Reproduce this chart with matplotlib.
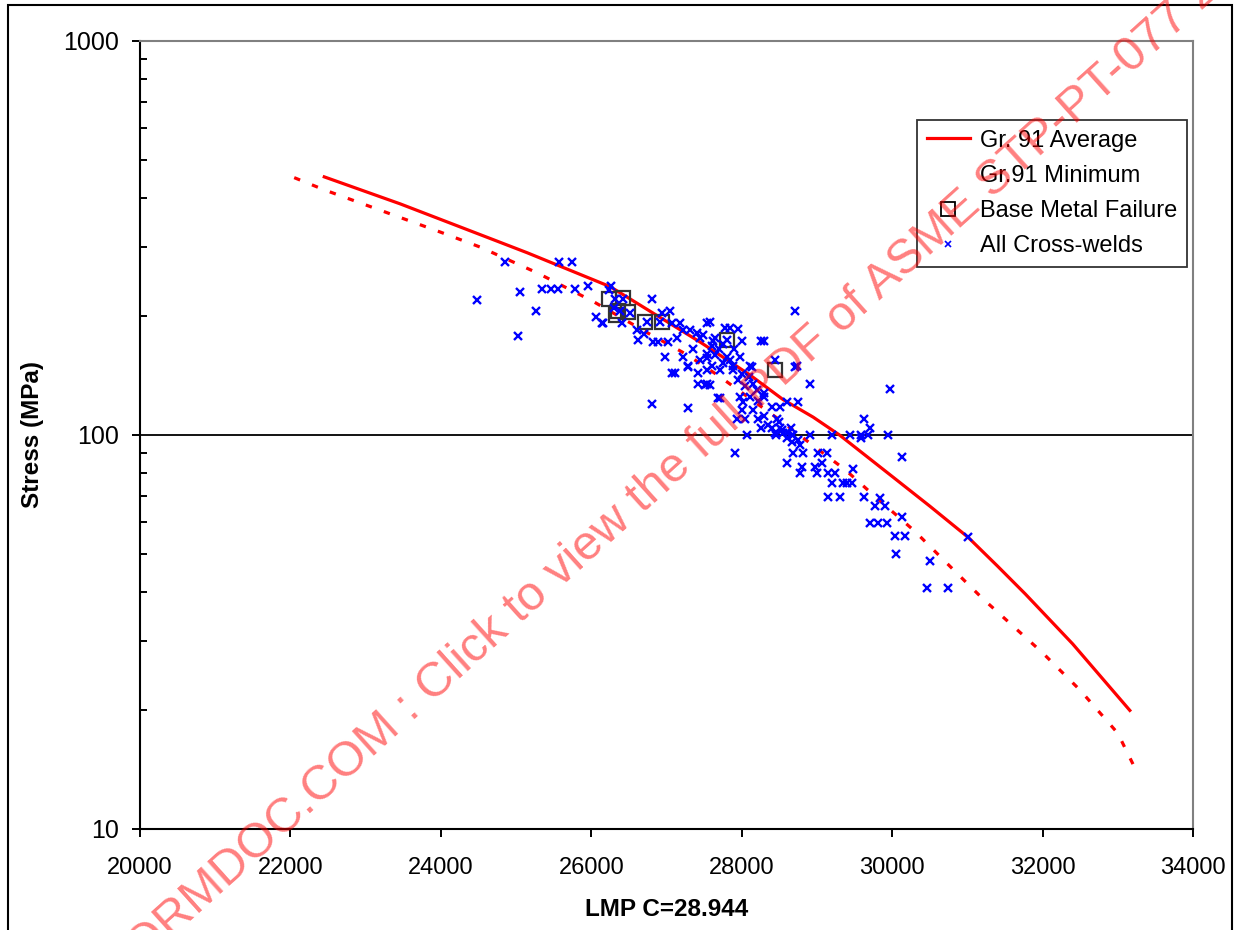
import matplotlib.pyplot as plt
from matplotlib import font_manager
from matplotlib.lines import Line2D
from matplotlib.patches import Rectangle
from matplotlib.ticker import LogLocator, NullFormatter, FixedLocator

plt.rcParams['font.family'] = ['Liberation Sans', 'DejaVu Sans']
names = {f.name for f in font_manager.fontManager.ttflist}
narrow = 'Liberation Sans Narrow' if 'Liberation Sans Narrow' in names else 'Liberation Sans'

# Gr.91 average / minimum curves (LMP, MPa)
avg_lmp = [22450, 23460, 24700, 25150, 26250, 27450, 28110, 28550, 28950, 29300,
           30000, 30500, 31010, 31400, 31770, 32400, 33160]
avg_mpa = [452, 386, 313, 290, 238, 172, 142, 123, 111, 100,
           78.5, 66, 55, 46.5, 39.5, 29.5, 20]

min_lmp = [22050, 22450, 24000, 24520, 25280, 26030, 26740, 27270, 27700, 28510,
           28950, 29380, 29730, 30300, 30840, 31200, 32000, 32500, 33000, 33250]
min_mpa = [450, 419, 327, 300, 258, 218, 182, 160, 141, 109,
           94, 81.5, 71, 57, 45, 38.5, 28, 22.5, 17.5, 14]

# base metal failures
bm_lmp = [26240, 26420, 26360, 26330, 26490, 26720, 26940, 27810, 28440]
bm_mpa = [222, 223, 207, 202, 205, 194, 194, 174, 146]

# all cross-welds
cw_lmp = [24480, 24850, 25050, 25030, 25270, 25350, 25470, 25560, 25570, 25750,
          25790, 25960, 26060, 26140, 26260, 26240, 26320, 26420, 26810, 26160,
          26380, 26520, 26410, 26610, 26620, 26740, 26920, 26940, 27050, 27070,
          27180, 27220, 26820, 26890, 26980, 27140, 27310, 27410, 27450, 27540,
          27220, 27290, 27450, 27540, 27020, 28710, 27580, 27780, 27850, 27950,
          27810, 28010, 28290, 28250, 27620, 27490, 27540, 27650, 27810, 27980,
          28110, 28440, 28740, 27890, 27540, 27710, 27890, 28140, 28710, 27510,
          27580, 27690, 27980, 28110, 28020, 28210, 28290, 28400, 28510, 28600,
          28750, 28010, 28150, 27940, 28050, 28220, 28470, 28250, 28400, 28510,
          28550, 28670, 28070, 28750, 27070, 27110, 27290, 27420, 27420, 27540,
          26810, 27290, 28440, 28540, 28620, 28680, 28910, 29200, 29440, 29580,
          29680, 29950, 29630, 29710, 29580, 28670, 28780, 28680, 28820, 29020,
          29140, 28600, 29070, 28800, 28780, 28980, 29000, 29150, 29240, 29480,
          29200, 29340, 29400, 29470, 29150, 29310, 29630, 29840, 29770, 29910,
          30130, 29710, 29810, 29930, 30040, 30170, 30130, 29970, 31010, 30050,
          30500, 30460, 30740, 28910, 27910, 27710, 27600, 27700, 27750, 27650,
          27900, 27850, 27750, 27600, 28000, 28100, 28050, 28150, 27950, 28200,
          28300, 28300, 28350, 28450, 28600, 28500, 28650, 26300, 26700, 27350]
cw_mpa = [220, 275, 231, 178, 207, 235, 235, 235, 275, 275,
          235, 239, 199, 192, 239, 233, 222, 221, 221, 192,
          207, 204, 192, 185, 174, 193, 193, 204, 207, 192,
          192, 185, 172, 172, 158, 176, 185, 181, 176, 192,
          158, 150, 155, 157, 172, 207, 193, 187, 187, 186,
          174, 173, 173, 173, 173, 179, 161, 160, 158, 158,
          150, 155, 150, 150, 146, 146, 146, 149, 149, 134,
          134, 124, 125, 125, 121, 122, 125, 118, 118, 121,
          121, 116, 116, 110, 110, 110, 110, 104, 104, 104,
          101, 100, 100, 97, 144, 144, 149, 144, 135, 135,
          120, 117, 101, 103, 101, 100, 100, 100, 100, 100,
          100, 100, 110, 104, 98, 96, 94.5, 90, 90, 90,
          90, 85, 85, 83, 80, 83, 80, 80, 80, 82,
          75.5, 75.5, 75.5, 75.5, 69.6, 69.6, 69.6, 69, 66, 66,
          62, 59.8, 59.8, 59.8, 55.5, 55.5, 88, 131, 55, 50,
          48, 41, 41, 135, 90, 124, 168, 165, 170, 176,
          165, 155, 152, 150, 143, 140, 133, 135, 138, 130,
          128, 112, 106, 100, 98, 108, 104, 210, 180, 165]

fig = plt.figure(figsize=(12.36, 9.3), dpi=100)
ax = fig.add_axes([140 / 1236, 1 - 829 / 930, 1053 / 1236, 788 / 930])

ax.plot(avg_lmp, avg_mpa, color='red', lw=2.3, zorder=3)
ax.plot(min_lmp, min_mpa, color='red', lw=2.3, ls=(0, (2, 4)), zorder=3)
ax.plot(bm_lmp, bm_mpa, ls='none', marker='s', ms=10, mfc='none', mec='#333333', mew=1.6, zorder=4)
ax.plot(cw_lmp, cw_mpa, ls='none', marker='x', ms=6, mew=1.7, color='blue', zorder=5)

ax.set_yscale('log')
ax.set_ylim(10, 1000)
ax.set_xlim(20000, 34000)
ax.xaxis.set_major_locator(FixedLocator(range(20000, 34001, 2000)))
ax.yaxis.set_major_locator(FixedLocator([10, 100, 1000]))
ax.yaxis.set_major_formatter(plt.FuncFormatter(lambda v, p: '%d' % v))
ax.yaxis.set_minor_locator(LogLocator(base=10, subs=range(2, 10)))
ax.yaxis.set_minor_formatter(NullFormatter())
ax.tick_params(axis='y', which='major', direction='out', length=6, width=1.4, pad=9, labelsize=18)
ax.tick_params(axis='y', which='minor', direction='in', length=5, width=1.4)
ax.tick_params(axis='x', which='major', direction='out', length=6, width=1.4, pad=14, labelsize=17)
for lab in ax.get_xticklabels():
    lab.set_family(narrow)
ax.axhline(100, color='black', lw=1.3, zorder=1)

for s in ['left', 'bottom']:
    ax.spines[s].set_color('black')
    ax.spines[s].set_linewidth(1.5)
for s in ['top', 'right']:
    ax.spines[s].set_color('#808080')
    ax.spines[s].set_linewidth(1.5)

ax.set_xlabel('LMP C=28.944', fontsize=17.5, fontweight='bold', labelpad=14)
ax.set_ylabel('Stress (MPa)', fontsize=17.5, fontweight='bold', labelpad=14)

handles = [Line2D([], [], color='red', lw=2.3),
           Line2D([], [], ls='none'),
           Line2D([], [], ls='none', marker='s', ms=10, mfc='none', mec='black', mew=1.3),
           Line2D([], [], ls='none', marker='x', ms=5, mew=1.2, color='blue')]
labels = ['Gr. 91 Average', 'Gr.91 Minimum', 'Base Metal Failure', 'All Cross-welds']
leg = ax.legend(handles, labels, loc='upper left', bbox_to_anchor=(0.738, 0.9),
                borderaxespad=0, fontsize=17, frameon=True, fancybox=False,
                edgecolor='black', handlelength=1.8, handletextpad=0.45,
                labelspacing=0.56, borderpad=0.42)
leg.get_frame().set_linewidth(1.3)

# outer chart border
fig.patches.append(Rectangle((8 / 1236, -0.01), 1224 / 1236, 1 - 5 / 930 + 0.01,
                             transform=fig.transFigure, fill=False, ec='black', lw=1.5))

# watermark
fig.text(0.517, 0.462, 'ASMENORMDOC.COM : Click to view the full PDF of ASME STP-PT-077 2015',
         rotation=42, rotation_mode='anchor', ha='center', va='center',
         fontsize=35, color='red', alpha=0.5, zorder=10)

plt.savefig('out.png', dpi=100)
